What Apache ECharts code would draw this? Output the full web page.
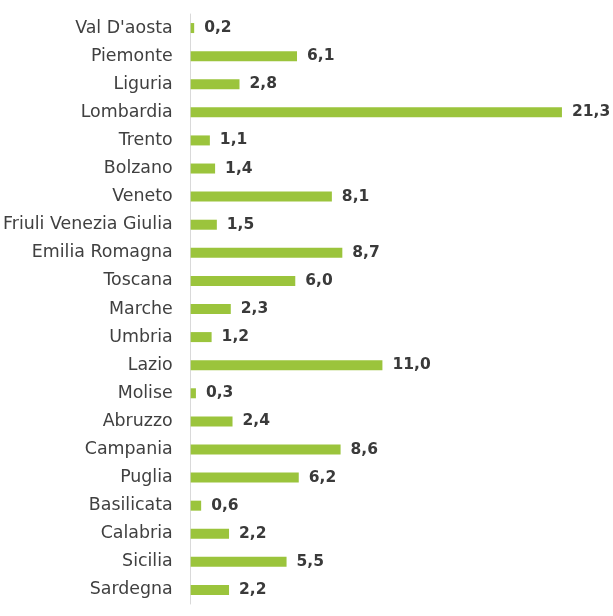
<!DOCTYPE html>
<html><head><meta charset="utf-8">
<script src="https://cdn.jsdelivr.net/npm/echarts@6/dist/echarts.min.js"></script>
<style>html,body{margin:0;padding:0;background:#fff}#c{width:613px;height:616px}</style>
</head><body><div id="c"></div>
<script>
const categories = ["Val D'aosta","Piemonte","Liguria","Lombardia","Trento","Bolzano","Veneto","Friuli Venezia Giulia","Emilia Romagna","Toscana","Marche","Umbria","Lazio","Molise","Abruzzo","Campania","Puglia","Basilicata","Calabria","Sicilia","Sardegna"];
const values = [0.2,6.1,2.8,21.3,1.1,1.4,8.1,1.5,8.7,6.0,2.3,1.2,11.0,0.3,2.4,8.6,6.2,0.6,2.2,5.5,2.2];
const chart = echarts.init(document.getElementById('c'));
chart.setOption({
  animation:false,
  backgroundColor:'#fff',
  grid:{left:189,top:14,bottom:12,width:420,containLabel:false},
  xAxis:{type:'value',min:0,max:24,show:false},
  yAxis:{type:'category',data:categories,inverse:true,
    axisLine:{show:true,lineStyle:{color:'#d9d9d9',width:1}},
    axisTick:{show:false},
    axisLabel:{color:'#404040',fontSize:17.4,fontFamily:'DejaVu Sans',margin:18}},
  series:[{type:'bar',data:values,barWidth:10,
    itemStyle:{color:'#9bc43c'},
    label:{show:true,position:'right',distance:10,color:'#3a3a3a',fontSize:15.5,fontWeight:'bold',fontFamily:'DejaVu Sans',
      formatter:p=>p.value.toFixed(1).replace('.',',')}}]
});
</script></body></html>
